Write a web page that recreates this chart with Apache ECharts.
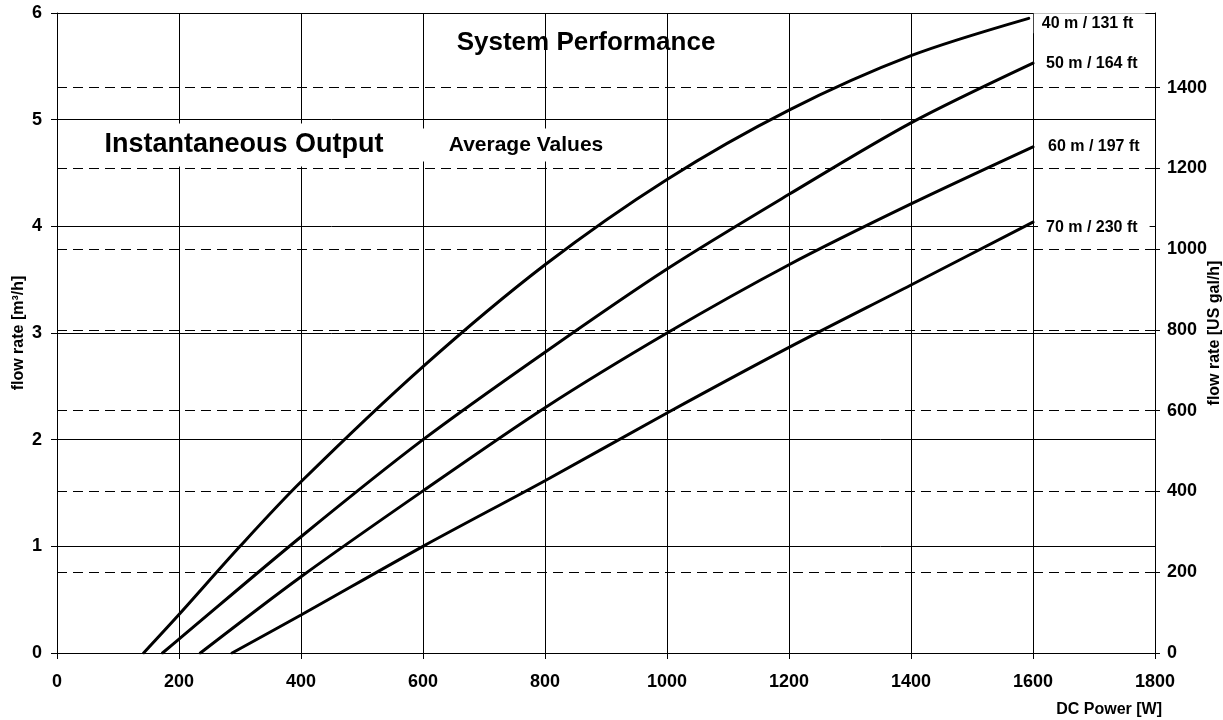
<!DOCTYPE html>
<html>
<head>
<meta charset="utf-8">
<script src="https://cdn.jsdelivr.net/npm/echarts@6/dist/echarts.min.js"></script>
<style>html,body{margin:0;padding:0;background:#fff}#c{width:1223px;height:720px}</style>
</head>
<body>
<div id="c"></div>
<script>
// Curve data: DC power [W] and flow rate [m³/h]
var seriesNames = ['40 m / 131 ft', '50 m / 164 ft', '60 m / 197 ft', '70 m / 230 ft'];
var power40 = [142, 200, 300, 400, 600, 800, 1000, 1200, 1400, 1593];
var flow40  = [0, 0.36, 1.0, 1.605, 2.685, 3.64, 4.44, 5.09, 5.6, 5.95];
var power50 = [173, 200, 400, 600, 800, 1000, 1200, 1400, 1600];
var flow50  = [0, 0.13, 1.09, 2.0, 2.82, 3.6, 4.3, 4.97, 5.53];
var power60 = [235, 400, 600, 800, 1000, 1200, 1400, 1600];
var flow60  = [0, 0.715, 1.52, 2.30, 3.0, 3.64, 4.21, 4.745];
var power70 = [287, 400, 600, 800, 1000, 1200, 1400, 1600];
var flow70  = [0, 0.356, 1.0, 1.615, 2.25, 2.865, 3.45, 4.04];
var xTicks = [0, 200, 400, 600, 800, 1000, 1200, 1400, 1600, 1800];
var leftTicks = [0, 1, 2, 3, 4, 5, 6];
var rightTicks = [0, 200, 400, 600, 800, 1000, 1200, 1400];
var m3hToGal = 264.17;

function pairs(xs, ys) { return xs.map(function (x, i) { return [x, ys[i]]; }); }
var curves = [pairs(power40, flow40), pairs(power50, flow50), pairs(power60, flow60), pairs(power70, flow70)];
var labelOffsets = [[0, 5], [0, 0], [2, 0], [0, 6]];
function plain(v) { return String(v); }

var FONT = '"Liberation Sans", Arial, Helvetica, sans-serif';
var chart = echarts.init(document.getElementById('c'), null, {renderer: 'canvas'});
var option = {
  animation: false,
  backgroundColor: '#fff',
  grid: {left: 57, right: 68, top: 13, bottom: 67, containLabel: false, outerBoundsMode: 'none'},
  xAxis: {
    type: 'value', min: xTicks[0], max: xTicks[xTicks.length - 1], interval: 200,
    name: 'DC Power [W]', nameLocation: 'end', nameGap: 7, nameMoveOverlap: false,
    nameTextStyle: {fontFamily: FONT, fontWeight: 'bold', fontSize: 16, color: '#000', align: 'right', verticalAlign: 'top', padding: [49, 0, 0, 0]},
    axisLine: {show: true, lineStyle: {color: '#000', width: 1}},
    axisTick: {show: true, length: 6, lineStyle: {color: '#000'}},
    axisLabel: {margin: 20, fontFamily: FONT, fontWeight: 'bold', fontSize: 18, color: '#000', formatter: plain},
    splitLine: {show: true, lineStyle: {color: '#000', width: 1}}
  },
  yAxis: [{
    type: 'value', position: 'left', min: leftTicks[0], max: leftTicks[leftTicks.length - 1], interval: 1,
    name: 'flow rate [m³/h]', nameLocation: 'middle', nameGap: 30, nameRotate: 90, nameMoveOverlap: false,
    nameTextStyle: {fontFamily: FONT, fontWeight: 'bold', fontSize: 16, color: '#000'},
    axisLine: {show: true, lineStyle: {color: '#000', width: 1}},
    axisTick: {show: true, length: 6, lineStyle: {color: '#000'}},
    axisLabel: {margin: 15, fontFamily: FONT, fontWeight: 'bold', fontSize: 18, color: '#000', formatter: plain},
    splitLine: {show: true, lineStyle: {color: '#000', width: 1}}
  }, {
    type: 'value', position: 'right', min: rightTicks[0], max: leftTicks[leftTicks.length - 1] * m3hToGal, interval: 200,
    name: 'flow rate [US gal/h]', nameLocation: 'middle', nameGap: 52, nameRotate: 90, nameMoveOverlap: false,
    nameTextStyle: {fontFamily: FONT, fontWeight: 'bold', fontSize: 16, color: '#000'},
    axisLine: {show: true, lineStyle: {color: '#000', width: 1}},
    axisTick: {show: true, length: 5, lineStyle: {color: '#000'}},
    axisLabel: {margin: 12, fontFamily: FONT, fontWeight: 'bold', fontSize: 18, color: '#000', showMaxLabel: false, formatter: plain},
    splitLine: {show: true, lineStyle: {color: '#000', width: 1, type: [10, 6]}}
  }],
  series: curves.map(function (d, i) {
    return {
      name: seriesNames[i], type: 'line', yAxisIndex: 0, data: d,
      showSymbol: false, smooth: 0.3,
      lineStyle: {color: '#000', width: 3, cap: 'round'},
      z: 10,
      endLabel: {
        show: true, formatter: seriesNames[i], distance: 5, offset: labelOffsets[i],
        fontFamily: FONT, fontWeight: 'bold', fontSize: 16, color: '#000',
        backgroundColor: '#fff', padding: [2, 12, 2, 8]
      }
    };
  }),
  graphic: [
    {type: 'text', x: 586, y: 43, z: 100, style: {text: 'System Performance', font: 'bold 26px ' + FONT, fill: '#000', align: 'center', verticalAlign: 'middle'}},
    {type: 'text', x: 244, y: 145, z: 100, style: {text: 'Instantaneous Output', font: 'bold 27px ' + FONT, fill: '#000', align: 'center', verticalAlign: 'middle', backgroundColor: '#fff', padding: [8, 20, 8, 20]}},
    {type: 'text', x: 517, y: 145, z: 100, style: {text: 'Average Values', font: 'bold 21px ' + FONT, fill: '#000', align: 'center', verticalAlign: 'middle', backgroundColor: '#fff', padding: [6, 12, 6, 30]}}
  ]
};
chart.setOption(option);
</script>
</body>
</html>
